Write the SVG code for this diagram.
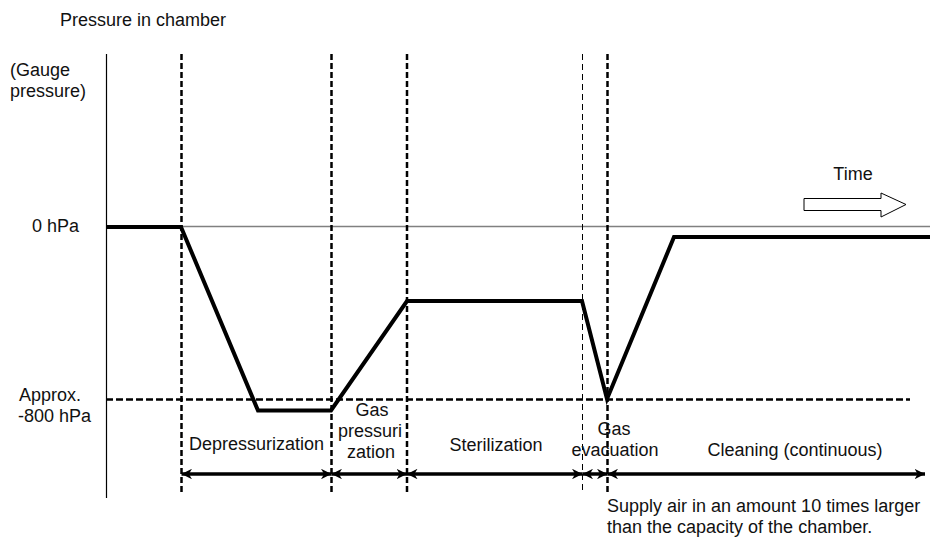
<svg xmlns="http://www.w3.org/2000/svg" width="930" height="540" viewBox="0 0 930 540">
<style>
text{font-family:"Liberation Sans",Arial,sans-serif;font-size:18px;fill:#111}
.mid{text-anchor:middle}
.curve{fill:none;stroke:#000;stroke-width:4;stroke-linejoin:miter}
.vd{stroke:#000;stroke-width:2.5;stroke-dasharray:6 3;fill:none}
.vt{stroke:#000;stroke-width:1;stroke-dasharray:6 4;fill:none}
.hd{stroke:#000;stroke-width:2.5;stroke-dasharray:7 3;fill:none}
.span{stroke:#000;stroke-width:3.5;fill:none;marker-start:url(#ah);marker-end:url(#ah)}
</style>
<defs>
<marker id="ah" viewBox="0 0 10 10" refX="10" refY="5" markerWidth="3" markerHeight="3" orient="auto-start-reverse" markerUnits="strokeWidth">
<path d="M0,0 L10,5 L0,10 L3,5 Z" fill="#000"/>
</marker>
</defs>
<g id="axes">
<line x1="106.5" y1="54" x2="106.5" y2="498" stroke="#000" stroke-width="1.2"/>
<line x1="106" y1="226.5" x2="930" y2="226.5" stroke="#808080" stroke-width="1.5"/>
<line class="hd" x1="106" y1="399.5" x2="910" y2="399.5"/>
</g>
<g id="phase-lines">
<line class="vd" x1="181.5" y1="54" x2="181.5" y2="494"/>
<line class="vd" x1="331.5" y1="54" x2="331.5" y2="494"/>
<line class="vd" x1="407" y1="54" x2="407" y2="494"/>
<line class="vt" x1="582.5" y1="54" x2="582.5" y2="494"/>
<line class="vd" x1="607.5" y1="54" x2="607.5" y2="494"/>
</g>
<g id="pressure-curve">
<polyline class="curve" points="106,227 181,227 258,410.5 331,410.5 407,301 582,301 607,399 674,237 930,237"/>
</g>
<g id="connectors">
<line class="span" x1="181.5" y1="474" x2="331.5" y2="474"/>
<line class="span" x1="331.5" y1="474" x2="407" y2="474"/>
<line class="span" x1="407" y1="474" x2="582.5" y2="474"/>
<line class="span" x1="582.5" y1="474" x2="607.5" y2="474"/>
<line stroke="#000" stroke-width="3.5" x1="607.5" y1="474" x2="925" y2="474" marker-start="url(#ah)" marker-end="url(#ah)"/>
</g>
<g id="time-arrow">
<path d="M804,198.5 L881,198.5 L881,193 L906,204.5 L881,217 L881,210.5 L804,210.5 Z" fill="#fff" stroke="#000" stroke-width="1"/>
<text class="mid" x="853" y="180">Time</text>
</g>
<g id="labels">
<text x="60" y="26">Pressure in chamber</text>
<text x="10" y="76">(Gauge</text>
<text x="10" y="97">pressure)</text>
<text x="32" y="232">0 hPa</text>
<text x="19" y="401">Approx.</text>
<text x="18" y="422">-800 hPa</text>
<text x="189" y="450">Depressurization</text>
<text class="mid" x="372" y="416">Gas</text>
<text class="mid" x="370" y="437">pressuri</text>
<text class="mid" x="371" y="458">zation</text>
<text class="mid" x="496" y="451">Sterilization</text>
<text class="mid" x="614" y="435">Gas</text>
<text class="mid" x="615" y="456">evacuation</text>
<text class="mid" x="795" y="456">Cleaning (continuous)</text>
<text x="607" y="512">Supply air in an amount 10 times larger</text>
<text x="607" y="533">than the capacity of the chamber.</text>
</g>
</svg>
